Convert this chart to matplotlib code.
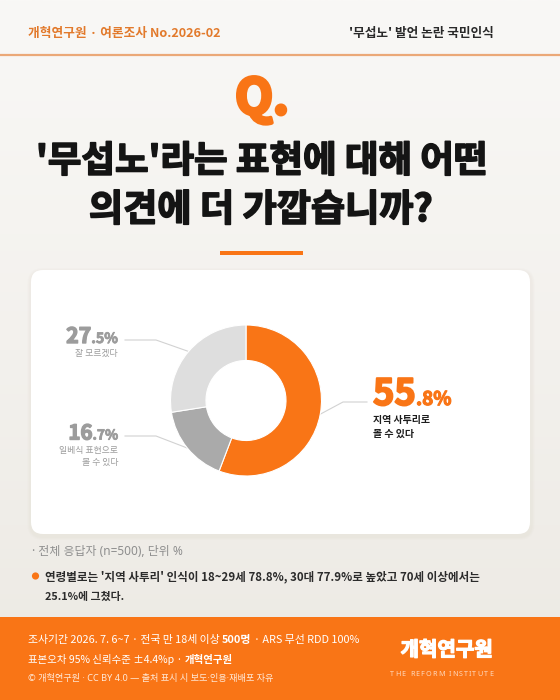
import matplotlib
matplotlib.use('Agg')
import matplotlib.pyplot as plt
import matplotlib.patheffects as pe
import numpy as np
from matplotlib.patches import FancyBboxPatch, Rectangle, Circle
from matplotlib.colors import LinearSegmentedColormap

CJK = ['Noto Sans CJK KR', 'DejaVu Sans']
LAT = ['Noto Sans', 'Noto Sans CJK KR', 'DejaVu Sans']
plt.rcParams['font.family'] = CJK

# ---------------- data ----------------
categories = ['지역 사투리로\n볼 수 있다', '일베식 표현으로\n볼 수 있다', '잘 모르겠다']
values = [55.8, 16.7, 27.5]
header_left = '개혁연구원 · 여론조사 No.2026-02'
header_right = "'무섭노' 발언 논란 국민인식"
title_lines = ["'무섭노'라는 표현에 대해 어떤", "의견에 더 가깝습니까?"]
note_base = '· 전체 응답자 (n=500), 단위 %'
note_lines = ["연령별로는 '지역 사투리' 인식이 18~29세 78.8%, 30대 77.9%로 높았고 70세 이상에서는",
              "25.1%에 그쳤다."]
footer_line1 = ['조사기간 2026. 7. 6~7 · 전국 만 18세 이상 ', '500명', ' · ARS 무선 RDD 100%']
footer_line2 = ['표본오차 95% 신뢰수준 ±4.4%p · ', '개혁연구원']
footer_line3 = '© 개혁연구원 · CC BY 4.0 — 출처 표시 시 보도·인용·재배포 자유'
logo_main = '개혁연구원'
logo_sub = 'THE REFORM INSTITUTE'

# ---------------- style ----------------
ORANGE = '#F97516'
COLORS = [ORANGE, '#AAAAAA', '#DEDEDE']
W, H = 560, 700

fig = plt.figure(figsize=(5.6, 7), dpi=100)
ax = fig.add_axes([0, 0, 1, 1])
ax.set_xlim(0, W)
ax.set_ylim(H, 0)
ax.axis('off')
renderer = fig.canvas.get_renderer()

# background gradient
cmap = LinearSegmentedColormap.from_list('bg', ['#F9F8F6', '#F3F1ED', '#ECE9E3'])
grad = np.linspace(0, 1, 256).reshape(-1, 1)
ax.imshow(grad, extent=[0, W, H, 0], cmap=cmap, aspect='auto', zorder=0)


def measure(s, **kw):
    kw = {k: v for k, v in kw.items() if k != 'path_effects'}
    t = ax.text(0, 0, '|' + s + '|', **kw)
    w1 = t.get_window_extent(renderer).width
    t.remove()
    t = ax.text(0, 0, '||', **kw)
    w2 = t.get_window_extent(renderer).width
    t.remove()
    return w1 - w2


def draw_runs(x, y, parts, ha='left', va='baseline', fit_width=None, zorder=6):
    widths = [measure(s, **kw) for s, kw in parts]
    total = sum(widths)
    if fit_width:
        sc = fit_width / total
        parts = [(s, {**kw, 'fontsize': kw['fontsize'] * sc}) for s, kw in parts]
        widths = [measure(s, **kw) for s, kw in parts]
        total = sum(widths)
    if ha == 'right':
        x0 = x - total
    elif ha == 'center':
        x0 = x - total / 2
    else:
        x0 = x
    for (s, kw), w in zip(parts, widths):
        st = s.lstrip(' ')
        lead = measure(s[:len(s) - len(st)], **kw) if len(st) < len(s) else 0
        if st:
            ax.text(x0 + lead, y, st, ha='left', va=va, zorder=zorder, **kw)
        x0 += w


def heavy(color, lw):
    return [pe.withStroke(linewidth=lw, foreground=color)]


# ---------------- header ----------------
draw_runs(28, 37, [(header_left, dict(fontsize=10, color='#E27A2C', fontweight='bold'))],
          fit_width=193)
draw_runs(494, 37, [(header_right, dict(fontsize=10, color='#2A2A2A', fontweight='bold'))],
          ha='right', fit_width=145)
ax.plot([0, W], [54.5, 54.5], color='#EBA877', lw=1.6, zorder=3)

# Q.
draw_runs(262, 114, [('Q', dict(fontsize=44, color=ORANGE, fontweight='bold',
                                path_effects=heavy(ORANGE, 2.5))),
                     ('.', dict(fontsize=44, color=ORANGE, fontweight='bold',
                                path_effects=heavy(ORANGE, 2.5)))],
          ha='center', fit_width=54)

# title
TK = '#141414'
draw_runs(262, 172, [(title_lines[0], dict(fontsize=26, color=TK, fontweight='bold',
                                           path_effects=heavy(TK, 1.2)))],
          ha='center', fit_width=452)
draw_runs(260.5, 221, [(title_lines[1], dict(fontsize=26, color=TK, fontweight='bold',
                                             path_effects=heavy(TK, 1.2)))],
          ha='center', fit_width=344)
ax.add_patch(Rectangle((220, 250.5), 83, 4, color=ORANGE, lw=0, zorder=3))

# ---------------- card ----------------
cx0, cy0, cw, ch = 31, 270, 499, 264
for i, a in enumerate([0.05, 0.05, 0.06]):
    g = 4 - i
    ax.add_patch(FancyBboxPatch((cx0 - g + 0.5, cy0 - g + 2), cw + 2 * g, ch + 2 * g,
                                boxstyle='round,pad=0,rounding_size=%d' % (12 + g),
                                fc='#CFC8BC', ec='none', alpha=a, zorder=2))
ax.add_patch(FancyBboxPatch((cx0, cy0), cw, ch, boxstyle='round,pad=0,rounding_size=12',
                            fc='white', ec='none', zorder=3))

# ---------------- donut ----------------
CX, CY, R = 246, 400.5, 75.5
pax = fig.add_axes([(CX - R) / W, (H - CY - R) / H, 2 * R / W, 2 * R / H])
pax.pie(values, colors=COLORS, startangle=90, counterclock=False, radius=1,
        wedgeprops=dict(width=0.47, edgecolor='white', linewidth=0.8))
pax.set_xlim(-1, 1)
pax.set_ylim(-1, 1)
pax.set_aspect('auto')
pax.axis('off')

# anchor points on the outer ring (mid angle of each wedge)
fr = np.array(values) / sum(values)
mids = np.cumsum(fr) - fr / 2
anchors = []
for m in mids:
    th = np.deg2rad(90 - 360 * m)
    anchors.append((CX + R * np.cos(th), CY - R * np.sin(th)))

LC = '#D2D2D2'
ax_, ay_ = anchors[0]
ax.plot([ax_, 343, 367], [ay_, 402, 402], color=LC, lw=0.8, zorder=4)
bx_, by_ = anchors[1]
ax.plot([bx_, 156, 125], [by_, 436, 436], color=LC, lw=0.8, zorder=4)
gx_, gy_ = anchors[2]
ax.plot([gx_, 156, 125], [gy_, 340, 340], color=LC, lw=0.8, zorder=4)


def pct_parts(v, big, small, color, stroke):
    whole, dec = ('%.1f' % v).split('.')
    return [(whole, dict(fontsize=big, color=color, fontweight='bold',
                         path_effects=heavy(color, stroke))),
            ('.' + dec + '%', dict(fontsize=small, color=color, fontweight='bold',
                                   path_effects=heavy(color, stroke * 0.6)))]


GRAY = '#9C9C9C'
draw_runs(373, 405, pct_parts(values[0], 24, 12.5, ORANGE, 1.4), fit_width=78)
for i, line in enumerate(categories[0].split('\n')):
    ax.text(373, 420 + i * 14, line, fontsize=7.2, color='#1E1E1E', fontweight='bold',
            ha='left', va='center', zorder=6)
draw_runs(118, 439.5, pct_parts(values[1], 15, 10, GRAY, 1.0), ha='right', fit_width=50)
for i, line in enumerate(categories[1].split('\n')):
    ax.text(118, 450.5 + i * 12.5, line, fontsize=6.4, color=GRAY,
            ha='right', va='center', zorder=6)
draw_runs(118, 343, pct_parts(values[2], 15, 10, GRAY, 1.0), ha='right', fit_width=52)
ax.text(118, 353.5, categories[2], fontsize=6.4, color=GRAY, ha='right', va='center', zorder=6)

# ---------------- notes ----------------
draw_runs(32, 555, [(note_base, dict(fontsize=8.5, color='#8E8E8E', family=LAT))],
          fit_width=151)
ax.add_patch(Circle((35.5, 576), 3.6, color=ORANGE, lw=0, zorder=5))
draw_runs(45, 580.5, [(note_lines[0], dict(fontsize=9, color='#2B2B2B', fontweight='bold'))],
          fit_width=434)
draw_runs(45, 599.5, [(note_lines[1], dict(fontsize=9, color='#2B2B2B', fontweight='bold'))],
          fit_width=79)

# ---------------- footer ----------------
ax.add_patch(Rectangle((0, 617), W, H - 617, color=ORANGE, lw=0, zorder=3))
draw_runs(28, 643, [(footer_line1[0], dict(fontsize=8.5, color='white', fontweight='medium')),
                    (footer_line1[1], dict(fontsize=8.5, color='white', fontweight='bold')),
                    (footer_line1[2], dict(fontsize=8.5, color='white', fontweight='medium'))],
          fit_width=332)
draw_runs(28, 663, [(footer_line2[0], dict(fontsize=8.5, color='white', fontweight='medium')),
                    (footer_line2[1], dict(fontsize=8.5, color='white', fontweight='bold'))],
          fit_width=204)
draw_runs(28, 681.5, [(footer_line3, dict(fontsize=7.5, color='#FFE9D8', family=LAT))],
          fit_width=247)

# logo
draw_runs(446.5, 656, [(logo_main, dict(fontsize=15, color='white', fontweight='bold',
                                        path_effects=heavy('white', 0.9)))],
          ha='center', fit_width=92)
sub_kw = dict(fontsize=5.2, color='#FFD9BE', family=LAT)
cw_list = [measure(c, **sub_kw) for c in logo_sub]
spacing = (103 - sum(cw_list)) / (len(logo_sub) - 1)
x = 390
for c, w in zip(logo_sub, cw_list):
    ax.text(x, 675.5, c, ha='left', va='baseline', zorder=6, **sub_kw)
    x += w + spacing

fig.savefig('out.png', dpi=100)
